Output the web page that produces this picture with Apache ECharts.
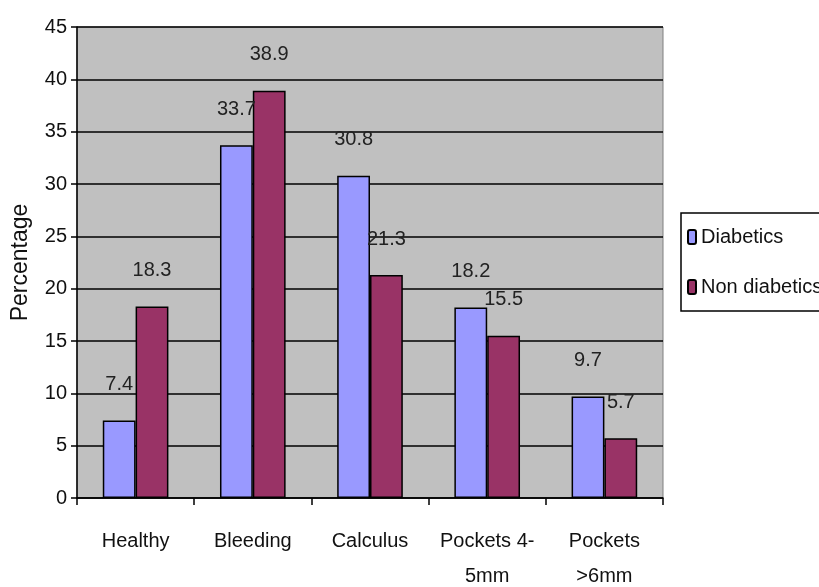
<!DOCTYPE html>
<html>
<head>
<meta charset="utf-8">
<script src="https://cdn.jsdelivr.net/npm/echarts@6/dist/echarts.min.js"></script>
<style>html,body{margin:0;padding:0;background:#fff;}#c{width:819px;height:587px;}</style>
</head>
<body>
<div id="c"></div>
<script>
const categories = ['Healthy', 'Bleeding', 'Calculus', 'Pockets 4-\n5mm', 'Pockets\n>6mm'];
const diabetics = [7.4, 33.7, 30.8, 18.2, 9.7];
const nonDiabetics = [18.3, 38.9, 21.3, 15.5, 5.7];
const seriesNames = ['Diabetics', 'Non diabetics'];

const FONT = '"Liberation Sans", Arial, sans-serif';
const chart = echarts.init(document.getElementById('c'));
const lbl = {show: true, position: 'top', distance: 26, color: '#222', fontFamily: FONT, fontSize: 20};
chart.setOption({
  animation: false,
  backgroundColor: '#fff',
  grid: {left: 77, top: 27, right: 156, bottom: 89, outerBoundsMode: 'none', containLabel: false,
         show: true, backgroundColor: '#C0C0C0', borderColor: '#808080', borderWidth: 1},
  legend: {
    orient: 'vertical', left: 681, top: 213, width: 200,
    borderColor: '#000', borderWidth: 1.5, padding: [14, 40, 14, 6],
    itemWidth: 8, itemHeight: 14, itemGap: 30,
    textStyle: {fontFamily: FONT, fontSize: 20, color: '#111'},
    data: seriesNames
  },
  xAxis: {
    type: 'category', data: categories,
    axisLine: {lineStyle: {color: '#000', width: 1.5}},
    axisTick: {show: true, length: 7, lineStyle: {color: '#000', width: 1.5}},
    axisLabel: {fontFamily: FONT, fontSize: 20, color: '#111', margin: 26, lineHeight: 35, interval: 0}
  },
  yAxis: {
    type: 'value', min: 0, max: 45, interval: 5,
    name: 'Percentage', nameLocation: 'middle', nameGap: 45, nameRotate: 90,
    nameTextStyle: {fontFamily: FONT, fontSize: 23, color: '#111'},
    axisLine: {show: true, lineStyle: {color: '#000', width: 1.5}},
    axisTick: {show: true, length: 6, lineStyle: {color: '#000', width: 1.5}},
    axisLabel: {fontFamily: FONT, fontSize: 20, color: '#111', margin: 10},
    splitLine: {lineStyle: {color: '#000', width: 1.5}}
  },
  series: [
    {name: seriesNames[0], type: 'bar', data: diabetics, barGap: '0%', barCategoryGap: '44%',
     itemStyle: {color: '#9999FF', borderColor: '#000', borderWidth: 1.5}, label: lbl},
    {name: seriesNames[1], type: 'bar', data: nonDiabetics,
     itemStyle: {color: '#993366', borderColor: '#000', borderWidth: 1.5}, label: lbl}
  ]
});
</script>
</body>
</html>
